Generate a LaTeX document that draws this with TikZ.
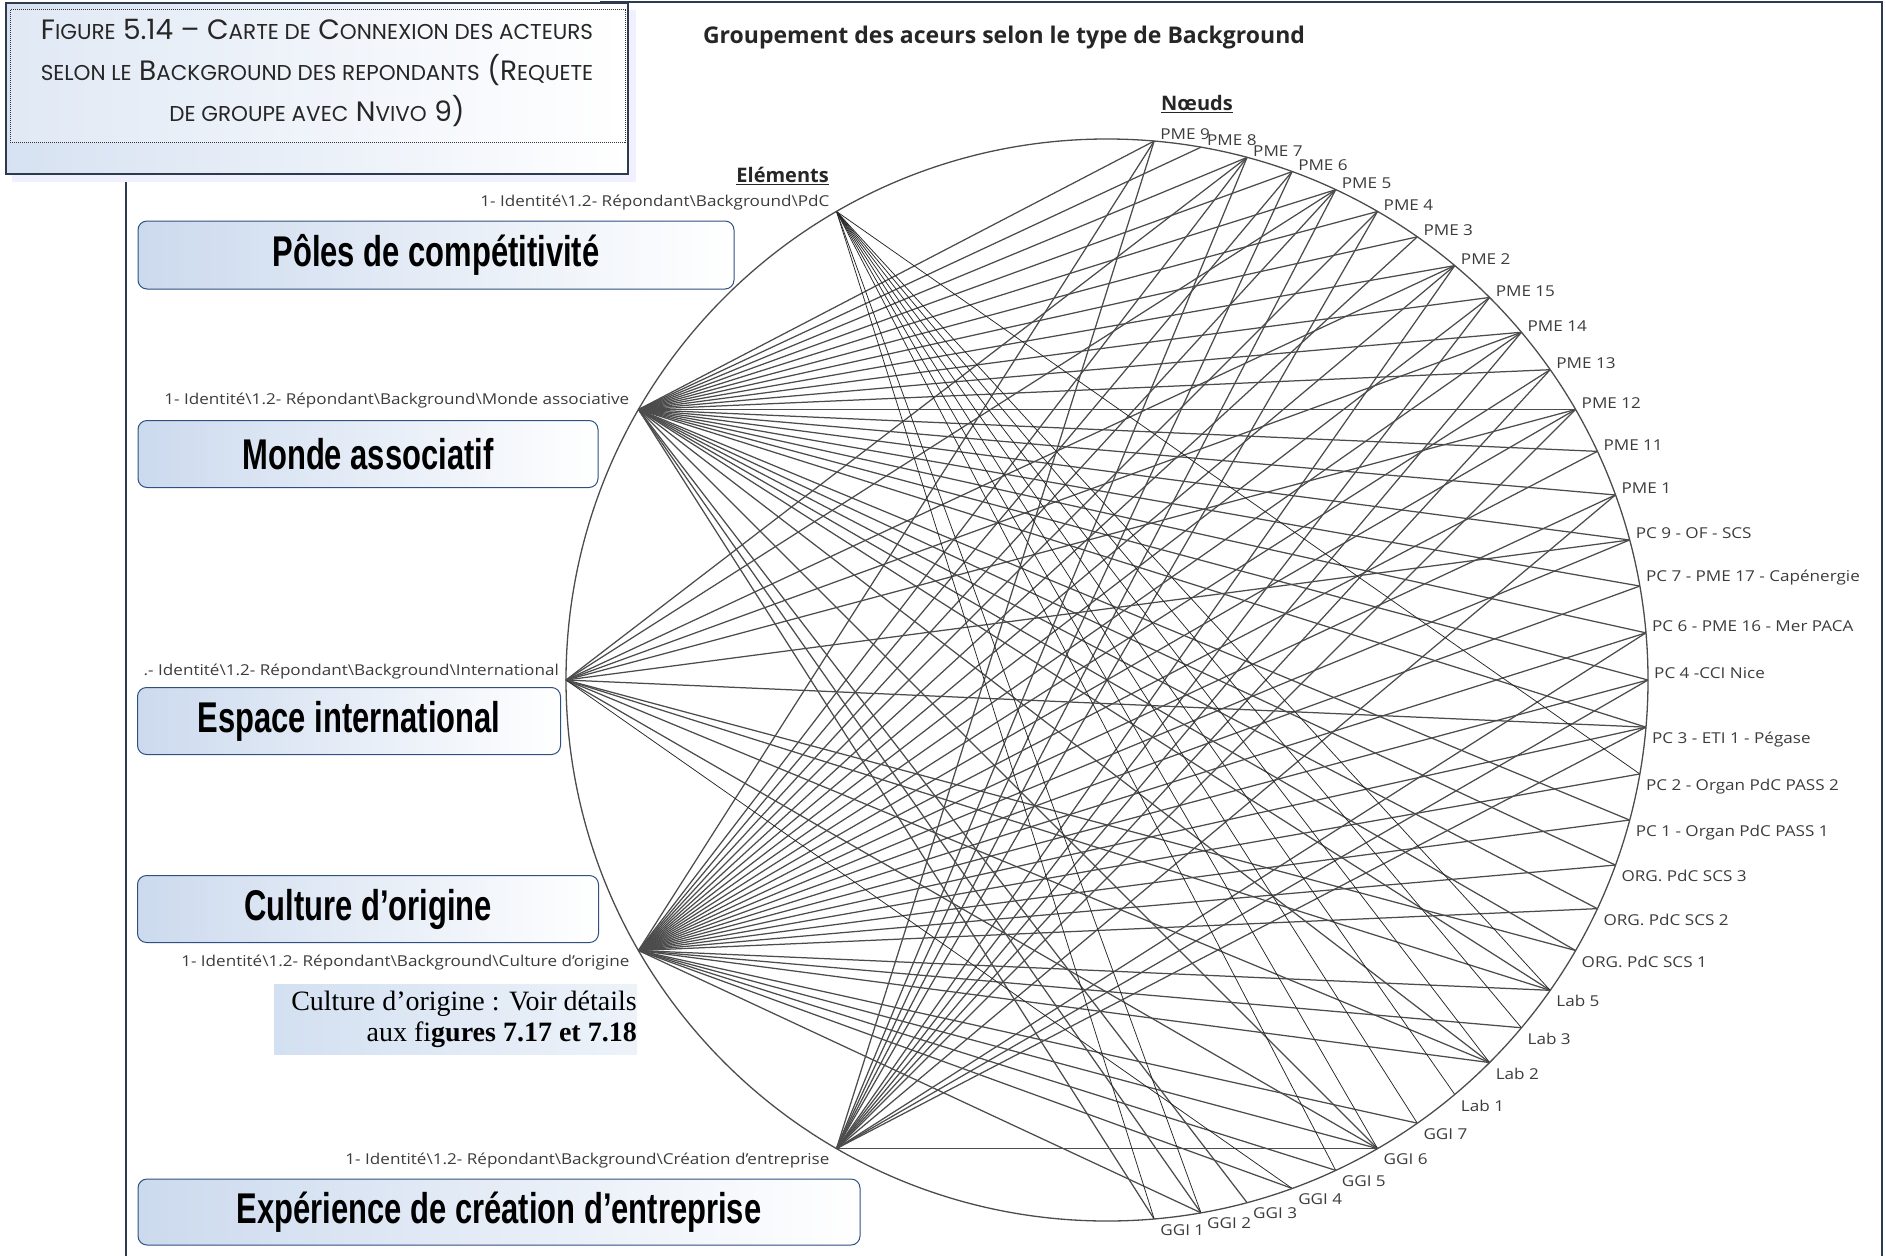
\documentclass[tikz,border=0pt]{standalone}
\usepackage{fontspec}
\setmainfont{Liberation Serif}
\newfontfamily\mapfont{Open Sans}
\newfontfamily\boxfont{Liberation Sans}
\newfontfamily\capfont{Poppins}
\usetikzlibrary{calc}
\definecolor{framecol}{HTML}{2E3B4E}
\definecolor{boxedge}{HTML}{2F5080}
\definecolor{boxfill}{HTML}{CCDAEE}
\definecolor{notefill}{HTML}{D3E0F1}
\definecolor{linkcol}{HTML}{4C4C4C}
\definecolor{labcol}{HTML}{3C3C3C}
\newcommand{\bs}{\textbackslash}
\newcommand{\sm}[1]{{\fontsize{21.5}{21.5}\selectfont #1}}
\newcommand{\catname}[1]{\scalebox{0.72}[1]{\boxfont\bfseries #1}}
\newcommand{\wide}[1]{\scalebox{1.14}[1]{#1}}
\tikzset{
  link/.style={linkcol, line width=1.25pt},
  darklink/.style={black!85, line width=0.75pt},
  elemlabel/.style={font=\mapfont\fontsize{15}{15}\selectfont, text=labcol, inner sep=1pt},
  nodelabel/.style={font=\mapfont\fontsize{15}{15}\selectfont, text=labcol, inner sep=1pt},
  catbox/.style={draw=boxedge, line width=1pt, rounded corners=9pt, left color=boxfill, right color=white, font=\fontsize{43}{43}\selectfont, inner sep=0pt},
  headline/.style={font=\mapfont\bfseries\fontsize{20}{20}\selectfont, text=black!85, inner sep=1pt}
}
\begin{document}
\begin{tikzpicture}[x=1pt,y=-1pt]
\useasboundingbox (0,0) rectangle (1886,1255);
% frame round the page
\draw[framecol, line width=2.5pt] (126,170) -- (126,1260);
\draw[framecol, line width=2.5pt] (600,2) -- (1882,2) -- (1882,1260);

% caption box
\fill[blue!6] (12,10) rectangle (636,182);
\draw[framecol, line width=1.2pt, left color=boxfill!80, right color=white] (6,3) rectangle (628,174);
\draw[black!80, line width=1pt, densely dotted, left color=boxfill!60, right color=white] (10,10) rectangle (625,142);
\node[font=\capfont\fontsize{28}{41}\selectfont, align=center, text=black!85] (caption) at (317,73)
  {F\sm{IGURE} 5.14 – C\sm{ARTE DE} C\sm{ONNEXION DES ACTEURS}\\
   \sm{SELON LE} B\sm{ACKGROUND DES REPONDANTS} (R\sm{EQUETE}\\
   \sm{DE GROUPE AVEC} N\sm{VIVO} 9)};

% title
\node[font=\mapfont\bfseries\fontsize{23}{23}\selectfont, text=black!85] (title) at (1004,38)
  {Groupement des aceurs selon le type de Background};

% circle and its points
\coordinate (c) at (1107,680);
\foreach \i in {0,...,34} {
  \pgfmathsetmacro{\a}{85-5*\i}
  \path (c) ++(\a:541pt) coordinate (n\i);
}
\path (c) ++(120:541pt) coordinate (e1);
\path (c) ++(150:541pt) coordinate (e2);
\path (c) ++(180:541pt) coordinate (e3);
\path (c) ++(210:541pt) coordinate (e4);
\path (c) ++(240:541pt) coordinate (e5);

% connections
\foreach \j in {0,1,2,3,4,5,6,7,8,9,10,11,12,13,14,15,16,17,18,20,21,22,23,24,26,29,32,33,34} \draw[link] (e2) -- (n\j);
\foreach \j in {2,4,7,9,11,14,18,23,24,26,29} \draw[link] (e3) -- (n\j);
\foreach \j in {0,2,3,4,5,6,7,8,9,10,11,12,13,14,15,16,17,18,19,20,21,22,24,25,26,28,29,30,31,33} \draw[link] (e4) -- (n\j);
\foreach \j in {0,2,3,4,5,7,8,9,10,11,13,16,17,18,29} \draw[link] (e5) -- (n\j);
\foreach \j in {19,24,25,26,27,28,29,30,33,34} \draw[darklink] (e1) -- (n\j);
\draw[darklink] (e3) -- (n31);

\draw[black!70, line width=1.3pt] (c) circle[radius=541pt];

% node labels
\foreach \i/\t in {0/PME 9, 1/PME 8, 2/PME 7, 3/PME 6, 4/PME 5, 5/PME 4, 6/PME 3, 7/PME 2,
  8/PME 15, 9/PME 14, 10/PME 13, 11/PME 12, 12/PME 11, 13/PME 1, 14/PC 9 - OF - SCS,
  15/PC 7 - PME 17 - Capénergie, 16/PC 6 - PME 16 - Mer PACA, 17/PC 4 -CCI Nice,
  18/PC 3 - ETI 1 - Pégase, 19/PC 2 - Organ PdC PASS 2, 20/PC 1 - Organ PdC PASS 1,
  21/ORG. PdC SCS 3, 22/ORG. PdC SCS 2, 23/ORG. PdC SCS 1, 24/Lab 5, 25/Lab 3, 26/Lab 2,
  27/Lab 1, 28/GGI 7, 29/GGI 6, 30/GGI 5, 31/GGI 4, 32/GGI 3, 33/GGI 2, 34/GGI 1} {
  \ifnum\i<18
    \node[nodelabel, anchor=south west, xshift=5pt] (l\i) at (n\i) {\wide{\t}};
  \else
    \node[nodelabel, anchor=north west, xshift=5pt, yshift=-4pt] (l\i) at (n\i) {\wide{\t}};
  \fi
}

% element labels
\node[elemlabel, anchor=south east, xshift=-6pt] (el1) at (e1) {\wide{1- Identité\bs 1.2- Répondant\bs Background\bs PdC}};
\node[elemlabel, anchor=south east, xshift=-8pt] (el2) at (e2) {\wide{1- Identité\bs 1.2- Répondant\bs Background\bs Monde associative}};
\node[elemlabel, anchor=south east, xshift=-6pt] (el3) at (e3) {\wide{.- Identité\bs 1.2- Répondant\bs Background\bs International}};
\node[elemlabel, anchor=north east, xshift=-8pt, yshift=-3pt] (el4) at (e4) {\wide{1- Identité\bs 1.2- Répondant\bs Background\bs Culture d’origine}};
\node[elemlabel, anchor=north east, xshift=-6pt, yshift=-3pt] (el5) at (e5) {\wide{1- Identité\bs 1.2- Répondant\bs Background\bs Création d’entreprise}};

\node[headline, anchor=south east] (elem) at (830,186) {\underline{Eléments}};
\node[headline] (noeuds) at (1197,104) {\underline{Nœuds}};

% category boxes
\node[catbox, minimum width=596pt, minimum height=68pt] (b1) at (436,255) {\catname{Pôles de compétitivité}};
\node[catbox, minimum width=460pt, minimum height=67pt] (b2) at (368,454) {\catname{Monde associatif}};
\node[catbox, minimum width=423pt, minimum height=67pt] (b3) at (349,721) {\catname{Espace international}};
\node[catbox, minimum width=461pt, minimum height=67pt] (b4) at (368,909) {\catname{Culture d’origine}};
\node[catbox, minimum width=722pt, minimum height=66pt] (b5) at (499,1212) {\catname{Expérience de création d’entreprise}};

% note
\fill[left color=notefill, right color=notefill!40] (274,984) rectangle (637,1054);
\node[font=\fontsize{28}{31}\selectfont, align=right, anchor=east, inner sep=0pt] (note) at (637,1019)
  {Culture d’origine : Voir détails\\ aux fi\textbf{gures 7.17 et 7.18}};
\end{tikzpicture}
\end{document}
